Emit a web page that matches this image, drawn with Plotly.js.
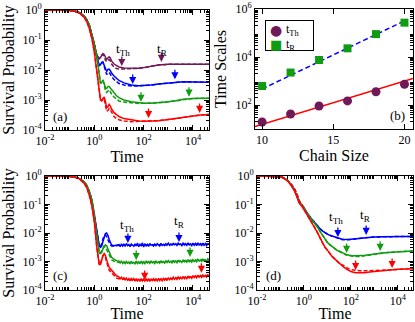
<!DOCTYPE html>
<html>
<head>
<meta charset="utf-8">
<script src="https://cdn.plot.ly/plotly-3.0.1.min.js"></script>
<style>
  html, body { margin: 0; padding: 0; background: #fff; }
  #chart { width: 415px; height: 322px; }
</style>
</head>
<body>
<div id="chart"></div>
<script>
// colours of the chain sizes
const MAROON = '#701858', BLUE = '#0000ff', GREEN = '#109c10', RED = '#ff0000';
const SERIF = 'Liberation Serif, Times New Roman, serif';

// ---------- panel (a) ----------
const tA = [0.01, 0.03, 0.1, 0.16, 0.25, 0.4, 0.5, 0.63, 0.8, 1.0, 1.26, 1.58, 1.78, 2.0, 2.24, 2.51, 2.82, 3.16, 3.55, 3.98,
  4.47, 5.0, 6.3, 7.9, 10, 16, 32, 63, 100, 200, 400, 1000, 2000, 4000, 10000, 20000, 45000];
const maroonA = [1, 0.993, 0.973, 0.923, 0.813, 0.603, 0.457, 0.302, 0.158, 0.0708, 0.0316, 0.024, 0.0263, 0.0316, 0.0355, 0.0331,
  0.0251, 0.0224, 0.0251, 0.0275, 0.0251, 0.02, 0.0158, 0.0138, 0.0126, 0.0117, 0.0115, 0.0115, 0.012, 0.0132, 0.0148,
  0.0155, 0.0155, 0.0155, 0.0155, 0.0155, 0.0155];
const maroonAdash = [1, 0.993, 0.973, 0.923, 0.813, 0.603, 0.457, 0.302, 0.158, 0.0708, 0.0316, 0.024, 0.0263, 0.0316, 0.033, 0.029,
  0.0209, 0.0191, 0.0209, 0.0224, 0.02, 0.0158, 0.0126, 0.0112, 0.0107, 0.0107, 0.011, 0.0113, 0.0119, 0.0132, 0.0148,
  0.0155, 0.0155, 0.0155, 0.0155, 0.0155, 0.0155];
const blueA = [1, 0.993, 0.973, 0.923, 0.813, 0.603, 0.457, 0.302, 0.158, 0.0708, 0.0282, 0.0141, 0.0151, 0.0178, 0.0182, 0.0141,
  0.01, 0.0089, 0.0105, 0.0107, 0.0095, 0.0079, 0.0063, 0.00525, 0.00447, 0.00372, 0.00316, 0.003, 0.003, 0.00316, 0.00339,
  0.00372, 0.00398, 0.00407, 0.00398, 0.00389, 0.00389];
const blueAdash = [1, 0.993, 0.973, 0.923, 0.813, 0.603, 0.457, 0.302, 0.158, 0.0708, 0.0282, 0.0141, 0.0151, 0.0178, 0.0182, 0.013,
  0.0083, 0.0071, 0.0079, 0.0083, 0.0072, 0.006, 0.0048, 0.004, 0.00355, 0.00316, 0.00295, 0.00295, 0.003, 0.00316, 0.00339,
  0.00372, 0.00398, 0.00407, 0.00398, 0.00389, 0.00389];
const greenA = [1, 0.993, 0.973, 0.923, 0.813, 0.603, 0.457, 0.302, 0.158, 0.0708, 0.0282, 0.0063, 0.00355, 0.00398, 0.00447, 0.00355,
  0.00251, 0.0024, 0.00282, 0.00282, 0.00251, 0.00209, 0.00166, 0.00138, 0.0012, 0.001, 0.00087, 0.00079, 0.00078, 0.00078,
  0.00081, 0.00087, 0.00095, 0.00105, 0.00112, 0.00115, 0.00115];
const greenAdash = [1, 0.993, 0.973, 0.923, 0.813, 0.603, 0.457, 0.302, 0.158, 0.0708, 0.0282, 0.0063, 0.00355, 0.00398, 0.00447, 0.0033,
  0.002, 0.00178, 0.00209, 0.00219, 0.0019, 0.00158, 0.00126, 0.00105, 0.00093, 0.00085, 0.00079, 0.00077, 0.00078, 0.00078,
  0.00081, 0.00087, 0.00095, 0.00105, 0.00112, 0.00115, 0.00115];
const redA = [1, 0.991, 0.966, 0.912, 0.794, 0.55, 0.398, 0.24, 0.112, 0.0398, 0.01, 0.002, 0.001, 0.00095, 0.00112, 0.00126,
  0.00089, 0.00056, 0.0006, 0.00071, 0.00063, 0.0005, 0.00038, 0.000316, 0.000282, 0.00024, 0.000214, 0.0002, 0.000195,
  0.000195, 0.000204, 0.000224, 0.000245, 0.000269, 0.000295, 0.000316, 0.000331];
const redAdash = [1, 0.991, 0.966, 0.912, 0.794, 0.55, 0.398, 0.24, 0.112, 0.0398, 0.01, 0.002, 0.001, 0.00095, 0.00112, 0.0011,
  0.00071, 0.00042, 0.00045, 0.00052, 0.00047, 0.00038, 0.00028, 0.00024, 0.00022, 0.0002, 0.00019, 0.000195, 0.000195,
  0.000195, 0.000204, 0.000224, 0.000245, 0.000269, 0.000295, 0.000316, 0.000331];
// arrows: times and the height where each arrow tip sits
const thA = [13, 36, 78, 158];
const thTipA = [0.0135, 0.0034, 0.00087, 0.00025];
const trA = [525, 1850, 6900, 18600];
const trTipA = [0.0186, 0.0049, 0.00129, 0.00037];

// ---------- panel (b) ----------
const chainSize = [10, 12, 14, 16, 18, 20];
const tTh = [19.5, 42, 91, 148, 355, 730];
const tR = [620, 2250, 7500, 23000, 90000, 270000];
const fitThX = [9.5, 20.6];
const fitThY = [12.6, 1290];
const fitRX = [10, 20];
const fitRY = [468, 320000];

// ---------- panel (c) ----------
const tC = [0.01, 0.03, 0.1, 0.16, 0.25, 0.4, 0.5, 0.63, 0.8, 1.0, 1.26, 1.58, 1.78, 2.0, 2.24, 2.51, 2.82, 3.16, 3.55, 3.98,
  4.47, 5.0, 6.3, 7.9,
  10, 11.2, 12.6, 14.1, 15.8, 17.8, 20, 22.4, 25.1, 28.2, 31.6, 35.5, 39.8, 44.7, 50.1, 56.2, 63.1, 70.8, 79.4, 89.1,
  100, 112, 126, 141, 158, 178, 200, 224, 251, 282, 316, 355, 398, 447, 501, 562, 631, 708, 794, 891,
  1000, 1122, 1259, 1413, 1585, 1778, 1995, 2239, 2512, 2818, 3162, 3548, 3981, 4467, 5012, 5623, 6310, 7079, 7943, 8913,
  10000, 11220, 12590, 14130, 15850, 17780, 19950, 22390, 25120, 28180, 31620, 35480, 39810, 44670];
const blueC = [1, 0.993, 0.973, 0.923, 0.813, 0.603, 0.457, 0.282, 0.141, 0.0447, 0.01, 0.00355, 0.00316, 0.00355, 0.005, 0.0076,
  0.0095, 0.01, 0.0083, 0.006, 0.00447, 0.0038, 0.00355, 0.0037,
  0.0039, 0.0033, 0.0042, 0.0035, 0.004, 0.0034, 0.0043, 0.0036, 0.0039, 0.0033, 0.0041, 0.0037, 0.0034, 0.0042, 0.0035, 0.0044,
  0.0033, 0.004, 0.0036, 0.0045, 0.0032,
  0.0042, 0.0035, 0.004, 0.0034, 0.0043, 0.0037, 0.0039, 0.0035, 0.0041, 0.0036, 0.0042, 0.0038, 0.0035, 0.0043, 0.0037, 0.004,
  0.0036, 0.0042, 0.0038,
  0.0044, 0.0037, 0.0041, 0.0038, 0.0043, 0.0039, 0.0042, 0.0037, 0.0044, 0.0039, 0.0041, 0.0036, 0.0044, 0.0038, 0.0042, 0.0037,
  0.0045, 0.0038, 0.0041, 0.0036,
  0.0044, 0.0037, 0.0043, 0.0036, 0.0045, 0.0038, 0.0042, 0.0035, 0.0044, 0.0037, 0.0043, 0.0036, 0.0042, 0.0039];
const greenC = [1, 0.993, 0.973, 0.923, 0.813, 0.603, 0.457, 0.282, 0.141, 0.04, 0.0071, 0.002, 0.0019, 0.0021, 0.0028, 0.00355,
  0.0038, 0.00355, 0.0028, 0.0021, 0.00166, 0.00141, 0.0012, 0.00107,
  0.00105, 0.0009, 0.00102, 0.00086, 0.00098, 0.00084, 0.001, 0.00088, 0.00095, 0.00082, 0.00101, 0.00087, 0.00094, 0.00081,
  0.00103, 0.00086, 0.00097, 0.00083, 0.00104, 0.00085, 0.00096,
  0.00084, 0.00102, 0.00088, 0.00099, 0.00086, 0.00105, 0.00089, 0.00097, 0.00085, 0.00103, 0.0009, 0.00098, 0.00087, 0.00106,
  0.00091, 0.001, 0.00088, 0.00104, 0.00092,
  0.00108, 0.00093, 0.00102, 0.0009, 0.0011, 0.00094, 0.00105, 0.00091, 0.00112, 0.00096, 0.00104, 0.00093, 0.00111, 0.00097,
  0.00106, 0.00094, 0.00114, 0.00098, 0.00107, 0.00095,
  0.00116, 0.001, 0.00112, 0.00098, 0.00119, 0.00103, 0.00114, 0.001, 0.0012, 0.00104, 0.00115, 0.00101, 0.00122, 0.00106];
const redC = [1, 0.991, 0.966, 0.912, 0.794, 0.537, 0.38, 0.209, 0.0891, 0.0251, 0.00316, 0.00079, 0.00079, 0.00112, 0.00166, 0.0019,
  0.00166, 0.00112, 0.00076, 0.00063, 0.00056, 0.0005, 0.00038, 0.000316,
  0.00029, 0.00025, 0.00028, 0.00024, 0.00027, 0.00023, 0.00026, 0.00022, 0.00025, 0.00021, 0.00026, 0.00022, 0.00025, 0.000205,
  0.00025, 0.00021, 0.000245, 0.0002, 0.00025, 0.00021, 0.00024,
  0.000205, 0.000245, 0.00021, 0.00025, 0.0002, 0.00024, 0.000215, 0.00025, 0.000205, 0.000245, 0.00021, 0.000255, 0.000215,
  0.000245, 0.00021, 0.000255, 0.00022, 0.00025, 0.000215,
  0.00027, 0.00023, 0.000265, 0.000235, 0.00028, 0.00024, 0.00027, 0.000235, 0.000285, 0.000245, 0.00028, 0.00024, 0.000295,
  0.00025, 0.000285, 0.00025, 0.0003, 0.00026, 0.00029, 0.000255,
  0.00032, 0.000275, 0.00031, 0.00027, 0.00033, 0.00028, 0.00032, 0.00028, 0.000335, 0.00029, 0.000325, 0.000285, 0.00034, 0.000295];
const tCdash = [0.01, 0.03, 0.1, 0.16, 0.25, 0.4, 0.5, 0.63, 0.8, 1.0, 1.26, 1.58, 1.78, 2.0, 2.24, 2.51, 2.82, 3.16, 3.55, 3.98,
  4.47, 5.0, 6.3, 7.9, 10, 32, 100, 316, 1000, 3162, 10000, 44670];
const blueCdash = [1, 0.993, 0.973, 0.923, 0.813, 0.603, 0.457, 0.282, 0.141, 0.0447, 0.01, 0.00355, 0.0034, 0.0042, 0.0062, 0.0082,
  0.0085, 0.0075, 0.0058, 0.0046, 0.0039, 0.0035, 0.0034, 0.0036, 0.0037, 0.0037, 0.0037, 0.0038, 0.0039, 0.004, 0.0041, 0.0041];
const greenCdash = [1, 0.993, 0.973, 0.923, 0.813, 0.603, 0.457, 0.282, 0.141, 0.04, 0.0071, 0.002, 0.002, 0.0025, 0.0031, 0.0034,
  0.0032, 0.0026, 0.002, 0.0016, 0.0013, 0.00115, 0.00102, 0.00095, 0.00093, 0.00091, 0.00092, 0.00095, 0.001, 0.00105, 0.00112, 0.00118];
const redCdash = [1, 0.991, 0.966, 0.912, 0.794, 0.537, 0.38, 0.209, 0.0891, 0.0251, 0.00316, 0.00079, 0.00085, 0.0012, 0.0016, 0.0017,
  0.0014, 0.00095, 0.00062, 0.0005, 0.00045, 0.0004, 0.00031, 0.00026, 0.00025, 0.000225, 0.000222, 0.000228, 0.000245, 0.00027,
  0.0003, 0.00033];
const thC = [23, 50, 110];
const thTipC = [0.0045, 0.00112, 0.000224];
const trC = [2700, 7600, 22000];
const trTipC = [0.0048, 0.00145, 0.0004];

// ---------- panel (d) ----------
const tD = [0.01, 0.03, 0.063, 0.1, 0.126, 0.158, 0.2, 0.251, 0.316, 0.4, 0.5, 0.63, 0.79, 1.0, 1.26, 1.58, 2.0, 2.51, 3.16, 3.98,
  5.0, 6.3, 7.9, 10, 12.6, 15.8, 20, 25.1, 31.6, 39.8, 50, 63, 79, 100, 158, 251, 398, 631, 1000, 2000, 4000, 10000, 20000, 45000];
const blueD = [1, 0.999, 0.995, 0.955, 0.891, 0.813, 0.708, 0.562, 0.447, 0.316, 0.209, 0.12, 0.1, 0.0794, 0.0562, 0.0417, 0.0331,
  0.0263, 0.0209, 0.0166, 0.0138, 0.0117, 0.0102, 0.0091, 0.0083, 0.00776, 0.00724, 0.00676, 0.00646, 0.00617, 0.00603, 0.00589,
  0.00589, 0.00603, 0.0063, 0.0066, 0.00692, 0.00708, 0.00724, 0.00741, 0.00759, 0.00759, 0.00759, 0.00759];
const blueDdash = [1, 0.999, 0.995, 0.955, 0.891, 0.813, 0.708, 0.562, 0.47, 0.34, 0.23, 0.13, 0.102, 0.0794, 0.0562, 0.0417, 0.0331,
  0.0263, 0.0209, 0.0166, 0.0138, 0.0117, 0.0102, 0.0091, 0.0083, 0.00776, 0.00724, 0.0065, 0.0062, 0.0059, 0.0058, 0.0058,
  0.0058, 0.0059, 0.0062, 0.0066, 0.00692, 0.00708, 0.00724, 0.00741, 0.00759, 0.00759, 0.00759, 0.00759];
const greenD = [1, 0.999, 0.995, 0.955, 0.891, 0.813, 0.708, 0.562, 0.447, 0.316, 0.209, 0.12, 0.1, 0.0776, 0.0537, 0.0398, 0.0316,
  0.0251, 0.02, 0.0151, 0.011, 0.0081, 0.006, 0.00468, 0.00389, 0.00331, 0.00288, 0.00251, 0.00229, 0.00209, 0.0019, 0.00178,
  0.0017, 0.00162, 0.00158, 0.00158, 0.00166, 0.00174, 0.00186, 0.002, 0.00209, 0.00219, 0.00229, 0.00234];
const greenDdash = [1, 0.999, 0.995, 0.955, 0.891, 0.813, 0.708, 0.562, 0.47, 0.34, 0.23, 0.13, 0.102, 0.0776, 0.0537, 0.0398, 0.0316,
  0.0251, 0.02, 0.0151, 0.011, 0.0081, 0.006, 0.00468, 0.00389, 0.00331, 0.00288, 0.00251, 0.00229, 0.00209, 0.0018, 0.0017,
  0.00162, 0.00155, 0.0015, 0.0015, 0.00158, 0.0017, 0.00186, 0.002, 0.00209, 0.00219, 0.00229, 0.00234];
const redD = [1, 0.998, 0.99, 0.944, 0.871, 0.794, 0.676, 0.537, 0.417, 0.295, 0.191, 0.112, 0.0891, 0.0676, 0.049, 0.0355, 0.0263,
  0.0191, 0.0135, 0.00955, 0.0063, 0.00437, 0.00316, 0.00251, 0.0019, 0.00151, 0.00126, 0.00105, 0.00087, 0.00074, 0.00063,
  0.00055, 0.00049, 0.000447, 0.000407, 0.000398, 0.000407, 0.000427, 0.000447, 0.000479, 0.0005, 0.000537, 0.00055, 0.000562];
const redDdash = [1, 0.998, 0.99, 0.944, 0.871, 0.794, 0.676, 0.6, 0.48, 0.35, 0.24, 0.14, 0.1, 0.0676, 0.049, 0.0355, 0.0263,
  0.0191, 0.0135, 0.00955, 0.0063, 0.00437, 0.00316, 0.00251, 0.0019, 0.00151, 0.00126, 0.00105, 0.00087, 0.00079, 0.00069,
  0.00062, 0.00056, 0.00052, 0.00048, 0.00047, 0.00047, 0.00047, 0.00048, 0.000495, 0.000505, 0.000537, 0.00055, 0.000562];
const thD = [28, 66, 160];
const thTipD = [0.0072, 0.002, 0.0005];
const trD = [450, 1780, 5750];
const trTipD = [0.0085, 0.00234, 0.00059];

// pixel boxes of the four frames -> paper domains
const W = 415, H = 322;
const xdom = (a, b) => [a / W, b / W];
const ydom = (top, bottom) => [1 - bottom / H, 1 - top / H];
const px = x => x / W;
const py = y => 1 - y / H;

function logMinor(lo, hi) {
  const v = [];
  for (let e = lo; e < hi; e++) for (let m = 2; m < 10; m++) v.push(m * Math.pow(10, e));
  return v;
}
function powTicks(exps) {
  return {
    tickmode: 'array',
    tickvals: exps.map(e => Math.pow(10, e)),
    ticktext: exps.map(e => '10<sup>' + e + '</sup>')
  };
}

const axBase = {
  showline: true, linecolor: 'black', linewidth: 1, mirror: 'ticks',
  ticks: 'inside', ticklen: 5, tickwidth: 1, tickcolor: 'black',
  showgrid: false, zeroline: false,
  tickfont: { family: SERIF, size: 12, color: 'black' }
};
const titleFont = { family: SERIF, size: 16, color: 'black' };

function timeAxis(dom, anchor) {
  return Object.assign({}, axBase, powTicks([-2, 0, 2, 4]), {
    type: 'log', range: [-2, 4.65], domain: dom, anchor: anchor,
    minor: { tickvals: logMinor(-2, 5), ticks: 'inside', ticklen: 3, tickcolor: 'black' },
    title: { text: 'Time', font: titleFont, standoff: 0 }
  });
}
function probAxis(dom, anchor, title) {
  return Object.assign({}, axBase, powTicks([-4, -3, -2, -1, 0]), {
    type: 'log', range: [-4, 0], domain: dom, anchor: anchor,
    minor: { tickvals: logMinor(-4, 0), ticks: 'inside', ticklen: 3, tickcolor: 'black' },
    title: { text: title, font: titleFont, standoff: 4 }
  });
}

const traces = [];
function line(x, y, color, dash, xa, ya) {
  traces.push({
    x: x, y: y, mode: 'lines', xaxis: xa, yaxis: ya, showlegend: false,
    line: { color: color, width: 1.5, dash: dash ? '4px,2px' : 'solid' }, hoverinfo: 'skip'
  });
}

// (a)
line(tA, maroonAdash, MAROON, true, 'x', 'y');
line(tA, maroonA, MAROON, false, 'x', 'y');
line(tA, blueAdash, BLUE, true, 'x', 'y');
line(tA, blueA, BLUE, false, 'x', 'y');
line(tA, greenAdash, GREEN, true, 'x', 'y');
line(tA, greenA, GREEN, false, 'x', 'y');
line(tA, redAdash, RED, true, 'x', 'y');
line(tA, redA, RED, false, 'x', 'y');

// (b)
traces.push({ x: fitThX, y: fitThY, mode: 'lines', xaxis: 'x2', yaxis: 'y2', showlegend: false,
  line: { color: RED, width: 1.5 } });
traces.push({ x: fitRX, y: fitRY, mode: 'lines', xaxis: 'x2', yaxis: 'y2', showlegend: false,
  line: { color: BLUE, width: 1.5, dash: '5px,3px' } });
traces.push({ x: chainSize, y: tTh, mode: 'markers', xaxis: 'x2', yaxis: 'y2', showlegend: false,
  marker: { symbol: 'circle', size: 9, color: MAROON } });
traces.push({ x: chainSize, y: tR, mode: 'markers', xaxis: 'x2', yaxis: 'y2', showlegend: false,
  marker: { symbol: 'square', size: 8, color: GREEN } });

// (c)
line(tCdash, blueCdash, BLUE, true, 'x3', 'y3');
line(tC, blueC, BLUE, false, 'x3', 'y3');
line(tCdash, greenCdash, GREEN, true, 'x3', 'y3');
line(tC, greenC, GREEN, false, 'x3', 'y3');
line(tCdash, redCdash, RED, true, 'x3', 'y3');
line(tC, redC, RED, false, 'x3', 'y3');

// (d)
line(tD, blueDdash, BLUE, true, 'x4', 'y4');
line(tD, blueD, BLUE, false, 'x4', 'y4');
line(tD, greenDdash, GREEN, true, 'x4', 'y4');
line(tD, greenD, GREEN, false, 'x4', 'y4');
line(tD, redDdash, RED, true, 'x4', 'y4');
line(tD, redD, RED, false, 'x4', 'y4');

const ann = [];
function arrows(times, tips, colors, xa, ya) {
  times.forEach((t, i) => ann.push({
    xref: xa, yref: ya, x: Math.log10(t), y: Math.log10(tips[i]),
    ax: 0, ay: -11, text: '', showarrow: true, arrowhead: 2, arrowsize: 1.1,
    arrowwidth: 1.3, arrowcolor: colors[i], standoff: 0
  }));
}
arrows(thA, thTipA, [MAROON, BLUE, GREEN, RED], 'x', 'y');
arrows(trA, trTipA, [MAROON, BLUE, GREEN, RED], 'x', 'y');
arrows(thC, thTipC, [BLUE, GREEN, RED], 'x3', 'y3');
arrows(trC, trTipC, [BLUE, GREEN, RED], 'x3', 'y3');
arrows(thD, thTipD, [BLUE, GREEN, RED], 'x4', 'y4');
arrows(trD, trTipD, [BLUE, GREEN, RED], 'x4', 'y4');

const labFont = { family: SERIF, size: 13, color: 'black' };
function label(xa, ya, x, y, text, anchor, font) {
  ann.push({ xref: xa, yref: ya, x: x, y: y, text: text, showarrow: false, font: font || labFont,
    xanchor: anchor || 'center', yanchor: 'middle' });
}
// t_Th / t_R labels (log-axis positions)
label('x', 'y', 1.18, -1.33, 't<sub>Th</sub>');
label('x', 'y', 2.78, -1.33, 't<sub>R</sub>');
label('x3', 'y3', 1.31, -1.72, 't<sub>Th</sub>');
label('x3', 'y3', 3.47, -1.61, 't<sub>R</sub>');
label('x4', 'y4', 1.375, -1.47, 't<sub>Th</sub>');
label('x4', 'y4', 2.63, -1.4, 't<sub>R</sub>');
// panel letters
label('paper', 'paper', px(60), py(117), '(a)');
label('paper', 'paper', px(397), py(115), '(b)');
label('paper', 'paper', px(60), py(275), '(c)');
label('paper', 'paper', px(273), py(275), '(d)');
// legend of panel (b), drawn by hand to keep it compact: framed white box, then symbols and labels on top
ann.push({ xref: 'paper', yref: 'paper', x: px(265), y: py(20), xanchor: 'left', yanchor: 'top',
  text: ' ', width: 47, height: 29, borderpad: 0, bordercolor: 'black', borderwidth: 1,
  bgcolor: 'white', showarrow: false });
label('paper', 'paper', px(276), py(30), '\u25CF', 'center', { family: 'DejaVu Sans', size: 14, color: MAROON });
label('paper', 'paper', px(276), py(44), '\u25A0', 'center', { family: 'DejaVu Sans', size: 13, color: GREEN });
const legFont = { family: SERIF, size: 12, color: 'black' };
label('paper', 'paper', px(284), py(30), 't<sub>Th</sub>', 'left', legFont);
label('paper', 'paper', px(284), py(45), 't<sub>R</sub>', 'left', legFont);

const layout = {
  width: W, height: H,
  margin: { l: 0, r: 0, t: 0, b: 0 },
  paper_bgcolor: 'white', plot_bgcolor: 'white',
  font: { family: SERIF, color: 'black' },
  showlegend: false,
  xaxis: timeAxis(xdom(45, 209), 'y'),
  yaxis: probAxis(ydom(10, 130), 'x', 'Survival Probability'),
  xaxis2: Object.assign({}, axBase, {
    range: [9.5, 20.6], dtick: 5, tick0: 0, domain: xdom(255, 413), anchor: 'y2',
    title: { text: 'Chain Size', font: titleFont, standoff: 0 }
  }),
  yaxis2: Object.assign({}, axBase, powTicks([2, 4, 6]), {
    type: 'log', range: [1, 6], domain: ydom(9, 129), anchor: 'x2',
    minor: { tickvals: logMinor(1, 6), ticks: 'inside', ticklen: 3, tickcolor: 'black' },
    title: { text: 'Time Scales', font: titleFont, standoff: 4 }
  }),
  xaxis3: timeAxis(xdom(45, 209), 'y3'),
  yaxis3: probAxis(ydom(176, 290), 'x3', 'Survival Probability'),
  xaxis4: timeAxis(xdom(257, 413), 'y4'),
  yaxis4: probAxis(ydom(176, 290), 'x4', ''),
  annotations: ann
};

Plotly.newPlot('chart', traces, layout, { staticPlot: true, displayModeBar: false });
</script>
</body>
</html>
